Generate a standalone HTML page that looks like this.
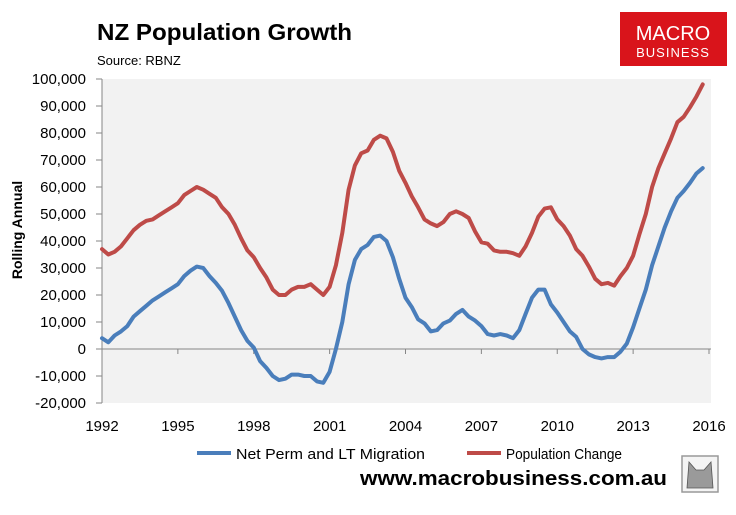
<!DOCTYPE html>
<html><head><meta charset="utf-8"><style>
body{margin:0;background:#fff;width:736px;height:510px;overflow:hidden;font-family:"Liberation Sans",Arial,sans-serif}
</style></head><body>
<svg width="736" height="510" xmlns="http://www.w3.org/2000/svg" font-family="Liberation Sans, Arial, sans-serif">
<text x="97" y="40" font-size="23" font-weight="bold" fill="#000" textLength="255" lengthAdjust="spacingAndGlyphs">NZ Population Growth</text>
<text x="97" y="65" font-size="13" fill="#000">Source: RBNZ</text>
<g>
<rect x="620" y="12" width="107" height="54" fill="#d9141b"/>
<text x="673" y="40" font-size="20" fill="#fff" text-anchor="middle">MACRO</text>
<text x="673" y="57" font-size="13" fill="#fff" text-anchor="middle" letter-spacing="1">BUSINESS</text>
</g>
<rect x="102" y="79" width="609" height="324" fill="#f2f2f2"/>
<g id="yticks"></g><g id="xticks"></g>
<text transform="translate(22,230) rotate(-90)" font-size="14" font-weight="bold" text-anchor="middle">Rolling Annual</text>
<g id="series"></g>
<g>
<line x1="197" y1="453" x2="231" y2="453" stroke="#4a7ebb" stroke-width="4"/>
<text x="236" y="459" font-size="15" textLength="189" lengthAdjust="spacingAndGlyphs">Net Perm and LT Migration</text>
<line x1="467" y1="453" x2="501" y2="453" stroke="#be4b48" stroke-width="4"/>
<text x="506" y="459" font-size="15" textLength="116" lengthAdjust="spacingAndGlyphs">Population Change</text>
</g>
<text x="360" y="485" font-size="20" font-weight="bold" textLength="307" lengthAdjust="spacingAndGlyphs">www.macrobusiness.com.au</text>
<g>
<rect x="682" y="456" width="36" height="36" fill="#f4f4f4" stroke="#999" stroke-width="1.5"/>
<path d="M687 488 L689 462 L696 470 L704 470 L711 462 L713 488 Z" fill="#9a9a9a" stroke="#555" stroke-width="0.8"/>
</g>
</svg>
<script>
const yTicks=[100000,90000,80000,70000,60000,50000,40000,30000,20000,10000,0,-10000,-20000];
const yLabels=["100,000","90,000","80,000","70,000","60,000","50,000","40,000","30,000","20,000","10,000","0","-10,000","-20,000"];
const xTicks=[1992,1995,1998,2001,2004,2007,2010,2013,2016];
const startYear=1992;
const migration=[4,2.5,5,6.5,8.5,12,14,16,18,19.5,21,22.5,24,27,29,30.5,30,27,24.5,21.5,17,12,7,3,0.5,-4.5,-7,-10,-11.5,-11,-9.5,-9.5,-10,-10,-12,-12.5,-8.5,0,10,24,33,37,38.5,41.5,42,40,34,26,19,15.5,11,9.5,6.5,7,9.5,10.5,13,14.5,12,10.5,8.5,5.5,5,5.5,5,4,7,13,19,22,22,16.5,13.5,10,6.5,4.5,0,-2,-3,-3.5,-3,-3,-1,2,8,15,22,31,38,45,51,56,58.5,61.5,65,67];
const population=[37,35,36,38,41,44,46,47.5,48,49.5,51,52.5,54,57,58.5,60,59,57.5,56,52.5,50,46,41,36.5,34,30,26.5,22,20,20,22,23,23,24,22,20,23,31,43,59,68,72.5,73.5,77.5,79,78,73,66,61.5,56.5,52.5,48,46.5,45.5,47,50,51,50,48.5,43.5,39.5,39,36.5,36,36,35.5,34.5,38,43,49,52,52.5,48,45.5,42,37,34.5,30.5,26,24,24.5,23.5,27,30,34.5,42.5,50,60,67,72.5,78,84,86,89.5,93.5,98];
const NS="http://www.w3.org/2000/svg";
const X=y=>102+(y-1992)*(607/24);
const Y=v=>403-(v+20000)*(324/120000);
function mk(t,a,p){const e=document.createElementNS(NS,t);for(const k in a)e.setAttribute(k,a[k]);p.appendChild(e);return e;}
const yt=document.getElementById('yticks');
yTicks.forEach((v,i)=>{
 const l=mk('line',{x1:96,x2:102,y1:Y(v),y2:Y(v),stroke:'#868686'},yt);
 
 
 const t=mk('text',{x:86,y:Y(v)+5,'font-size':15,'text-anchor':'end'},yt);
 t.textContent=yLabels[i];
 
 
});
const ax=mk('line',{x1:102,x2:102,y1:79,y2:403,stroke:'#868686'},yt);


const xt=document.getElementById('xticks');
const zl=mk('line',{x1:102,x2:711,y1:Y(0),y2:Y(0),stroke:'#868686'},xt);


xTicks.forEach(y=>{
 const l=mk('line',{x1:X(y),x2:X(y),y1:Y(0),y2:Y(0)+5,stroke:'#868686'},xt);
 
 
 const t=mk('text',{x:X(y),y:431,'font-size':15,'text-anchor':'middle'},xt);
 t.textContent=y;
 
 
});
const sg=document.getElementById('series');
function line(data,color,name){
 const pts=data.map((v,i)=>X(startYear+i/4).toFixed(1)+','+Y(v*1000).toFixed(1)).join(' ');
 const p=mk('polyline',{points:pts,fill:'none',stroke:color,'stroke-width':4,'stroke-linejoin':'round','stroke-linecap':'round'},sg);
 
 
}
line(population,'#be4b48','population-change-line');
line(migration,'#4a7ebb','migration-line');
</script>
</body></html>
